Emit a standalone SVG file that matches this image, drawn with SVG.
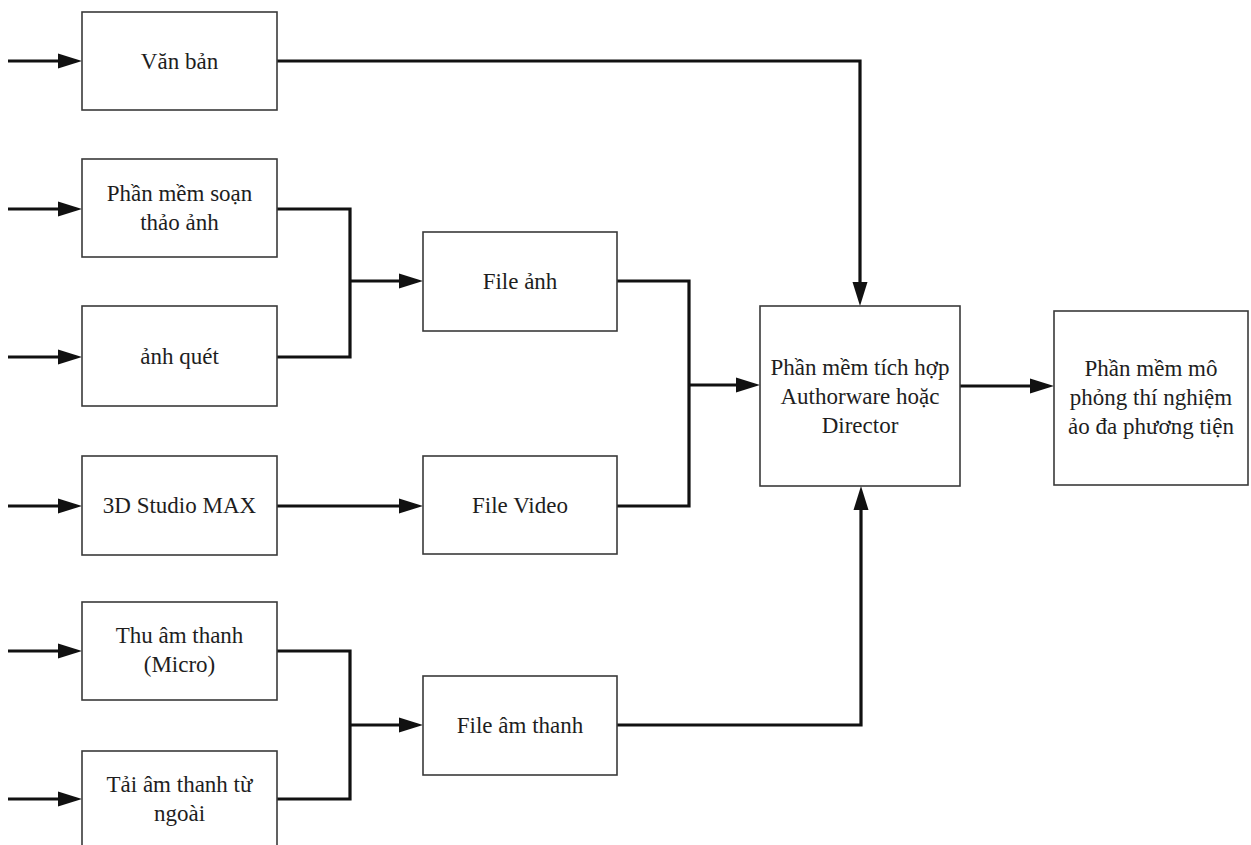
<svg xmlns="http://www.w3.org/2000/svg" width="1251" height="845" viewBox="0 0 1251 845">
  <defs>
    <style>
      .box { fill: #ffffff; stroke: #3a3a3a; stroke-width: 1.6; }
      .lbl { font-family: "Liberation Serif", "Times New Roman", serif; font-size: 23px; fill: #1e1e1e; text-anchor: middle; }
      .wire { fill: none; stroke: #111111; stroke-width: 3.2; stroke-linejoin: miter; }
      .arr { marker-end: url(#head); }
    </style>
    <marker id="head" markerUnits="userSpaceOnUse" markerWidth="26" markerHeight="16" refX="0" refY="8" orient="auto" overflow="visible">
      <path d="M0,0.5 L24,8 L0,15.5 z" fill="#111111"/>
    </marker>
  </defs>
  <rect width="1251" height="845" fill="#ffffff"/>

  <!-- connectors -->
  <g id="connectors">
    <!-- external inputs -->
    <path class="wire arr" d="M8,61 H58"/>
    <path class="wire arr" d="M8,209 H58"/>
    <path class="wire arr" d="M8,357 H58"/>
    <path class="wire arr" d="M8,506 H58"/>
    <path class="wire arr" d="M8,651 H58"/>
    <path class="wire arr" d="M8,799 H58"/>
    <!-- text straight to the integration tool -->
    <path class="wire arr" d="M277,61 H860 V282"/>
    <!-- image sources join into the image file -->
    <path class="wire" d="M277,209 H350 V357 H277"/>
    <path class="wire arr" d="M350,281 H399"/>
    <!-- 3D Studio MAX to video file -->
    <path class="wire arr" d="M277,506 H399"/>
    <!-- image and video files join into the integration tool -->
    <path class="wire" d="M617,281 H689 V506 H617"/>
    <path class="wire arr" d="M689,385 H736"/>
    <!-- sound sources join into the sound file -->
    <path class="wire" d="M277,651 H350 V799 H277"/>
    <path class="wire arr" d="M350,725 H399"/>
    <!-- sound file up to the integration tool -->
    <path class="wire arr" d="M617,725 H861 V510"/>
    <!-- integration tool to final product -->
    <path class="wire arr" d="M960,386 H1030"/>
  </g>

  <g id="van-ban">
    <rect class="box" x="82" y="12" width="195" height="98"/>
    <text class="lbl" x="179.5" y="69">Văn bản</text>
  </g>
  <g id="soan-thao-anh">
    <rect class="box" x="82" y="159" width="195" height="98"/>
    <text class="lbl" x="179.5" y="201">Phần mềm soạn</text>
    <text class="lbl" x="179.5" y="230">thảo ảnh</text>
  </g>
  <g id="anh-quet">
    <rect class="box" x="82" y="306" width="195" height="100"/>
    <text class="lbl" x="179.5" y="364">ảnh quét</text>
  </g>
  <g id="studio-max">
    <rect class="box" x="82" y="456" width="195" height="99"/>
    <text class="lbl" x="179.5" y="513">3D Studio MAX</text>
  </g>
  <g id="thu-am-thanh">
    <rect class="box" x="82" y="602" width="195" height="98"/>
    <text class="lbl" x="179.5" y="643">Thu âm thanh</text>
    <text class="lbl" x="179.5" y="672">(Micro)</text>
  </g>
  <g id="tai-am-thanh">
    <rect class="box" x="82" y="751" width="195" height="110"/>
    <text class="lbl" x="179.5" y="792">Tải âm thanh từ</text>
    <text class="lbl" x="179.5" y="821">ngoài</text>
  </g>
  <g id="file-anh">
    <rect class="box" x="423" y="232" width="194" height="99"/>
    <text class="lbl" x="520" y="289">File ảnh</text>
  </g>
  <g id="file-video">
    <rect class="box" x="423" y="456" width="194" height="98"/>
    <text class="lbl" x="520" y="513">File Video</text>
  </g>
  <g id="file-am-thanh">
    <rect class="box" x="423" y="676" width="194" height="99"/>
    <text class="lbl" x="520" y="733">File âm thanh</text>
  </g>
  <g id="tich-hop">
    <rect class="box" x="760" y="306" width="200" height="180"/>
    <text class="lbl" x="860" y="375">Phần mềm tích hợp</text>
    <text class="lbl" x="860" y="404">Authorware hoặc</text>
    <text class="lbl" x="860" y="433">Director</text>
  </g>
  <g id="mo-phong">
    <rect class="box" x="1054" y="311" width="194" height="174"/>
    <text class="lbl" x="1151" y="376">Phần mềm mô</text>
    <text class="lbl" x="1151" y="405">phỏng thí nghiệm</text>
    <text class="lbl" x="1151" y="434">ảo đa phương tiện</text>
  </g>
</svg>
